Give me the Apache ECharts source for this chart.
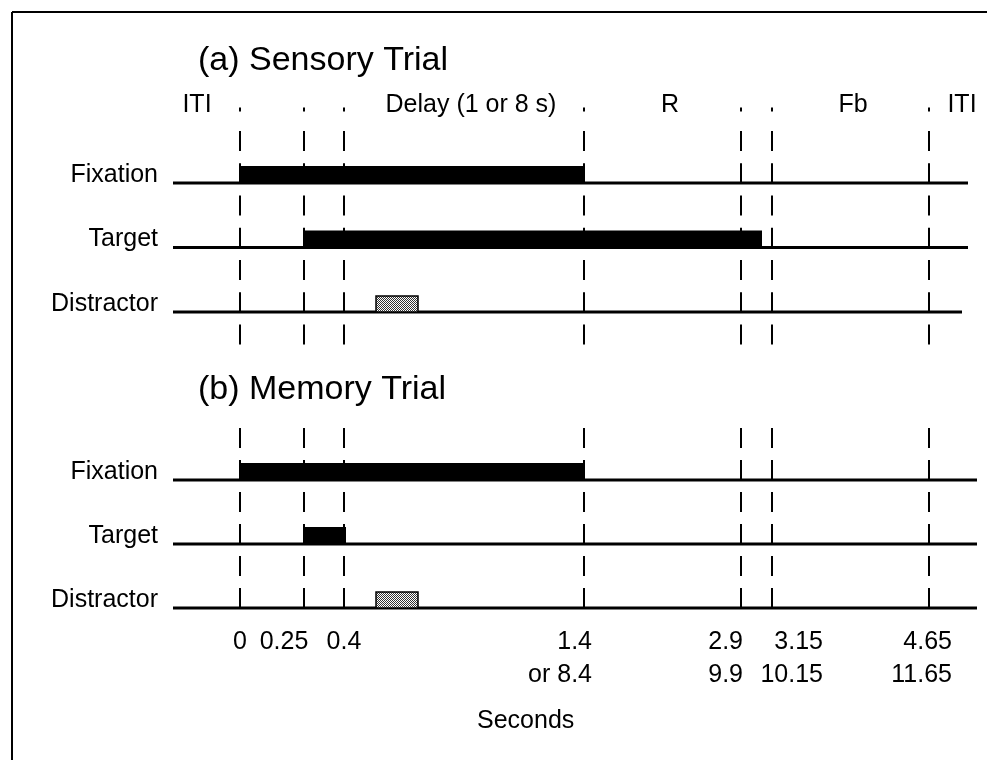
<!DOCTYPE html>
<html><head><meta charset="utf-8">
<script src="https://cdn.jsdelivr.net/npm/echarts@6/dist/echarts.min.js"></script>
<style>html,body{margin:0;padding:0;background:#fff}#c{width:1004px;height:760px}</style>
</head><body><div id="c"></div>
<script>
// ---------- data ----------
const rows = ['Fixation', 'Target', 'Distractor'];
const eventTimes = ['0', '0.25', '0.4', '1.4', '2.9', '3.15', '4.65'];
const eventTimesLong = ['', '', '', 'or 8.4', '9.9', '10.15', '11.65'];
// schematic (non-linear) drawing position of each event on the timeline
const eventPos = [0, 64, 104, 344, 501, 532, 689];
const phases = ['ITI', 'Delay (1 or 8 s)', 'R', 'Fb', 'ITI'];
const phaseCenters = [-43, 231, 430, 613, 722];
// bars: [rowIndex, start, end] on the schematic timeline
const sensoryBars = [[0, 0, 344], [1, 64, 522]];
const sensoryDistractor = [[2, 136, 178]];
const memoryBars = [[0, 0, 344], [1, 64, 106]];
const memoryDistractor = [[2, 136, 178]];
const timelineStart = -67;
const sensoryLineEnd = [728, 728, 722];
const memoryLineEnd = [737, 737, 737];
const panelTitles = ['(a) Sensory Trial', '(b) Memory Trial'];
const xTitle = 'Seconds';

// ---------- style / layout ----------
const FONT = 'Liberation Sans, Arial, Helvetica, sans-serif';
const FS = 25;
const tickAlign = ['center', 'center', 'center', 'right', 'right', 'right', 'right'];
const tickDx = [0, -20, 0, 8, 2, 51, 23];

const chart = echarts.init(document.getElementById('c'), null, {renderer: 'canvas'});

// checker pattern for distractor stimulus
const pc = document.createElement('canvas');
pc.width = 2; pc.height = 2;
const pctx = pc.getContext('2d');
pctx.fillStyle = '#fff'; pctx.fillRect(0, 0, 2, 2);
pctx.fillStyle = '#333'; pctx.fillRect(0, 0, 1, 1); pctx.fillRect(1, 1, 1, 1);
const checker = {image: pc, repeat: 'repeat'};

function baselineSeries(g, ends) {
  return {
    type: 'custom', xAxisIndex: g, yAxisIndex: g, clip: false, z: 3,
    data: rows.map((r, i) => [ends[i], i + 1]),
    renderItem: (params, api) => {
      const a = api.coord([timelineStart, api.value(1)]);
      const b = api.coord([api.value(0), api.value(1)]);
      return {type: 'line', shape: {x1: a[0], y1: a[1], x2: b[0], y2: b[1]},
        style: {stroke: '#000', lineWidth: 3}};
    }
  };
}
function dashSeries(g, top, bottom, dash) {
  return {
    type: 'custom', xAxisIndex: g, yAxisIndex: g, clip: false, z: 2,
    data: eventPos.map(p => [p, 1]),
    renderItem: (params, api) => {
      const a = api.coord([api.value(0), top]);
      const b = api.coord([api.value(0), bottom]);
      return {type: 'line', shape: {x1: a[0], y1: a[1], x2: b[0], y2: b[1]},
        style: {stroke: '#000', lineWidth: 2, lineDash: dash}};
    }
  };
}
function barSeries(g, bars, pattern) {
  return {
    type: 'custom', xAxisIndex: g, yAxisIndex: g, clip: false, z: 4,
    data: bars.map(b => [b[1], b[2], b[0] + 1]),
    renderItem: (params, api) => {
      const a = api.coord([api.value(0), api.value(2)]);
      const b = api.coord([api.value(1), api.value(2)]);
      if (pattern) {
        return {type: 'rect', shape: {x: a[0], y: a[1] - 16, width: b[0] - a[0], height: 16},
          style: {fill: checker, stroke: '#000', lineWidth: 1.5}};
      }
      return {type: 'rect', shape: {x: a[0], y: a[1] - 17, width: b[0] - a[0], height: 18},
        style: {fill: '#000'}};
    }
  };
}
function rowLabelSeries(g) {
  return {
    type: 'custom', xAxisIndex: g, yAxisIndex: g, clip: false, z: 5,
    data: rows.map((r, i) => [timelineStart, i + 1]),
    renderItem: (params, api) => {
      const a = api.coord([api.value(0), api.value(1)]);
      return {type: 'text', x: a[0] - 15, y: a[1] - 8,
        style: {text: rows[params.dataIndex], fontSize: FS, fontFamily: FONT, fill: '#000',
          align: 'right', verticalAlign: 'middle'}};
    }
  };
}

const series = [
  dashSeries(0, 0.194, 3.62, [20, 12.25]),
  baselineSeries(0, sensoryLineEnd),
  barSeries(0, sensoryBars, false),
  barSeries(0, sensoryDistractor, true),
  rowLabelSeries(0),
  // phase labels
  {
    type: 'custom', xAxisIndex: 0, yAxisIndex: 0, clip: false, z: 5,
    data: phaseCenters.map(c => [c, -0.2]),
    renderItem: (params, api) => {
      const a = api.coord([api.value(0), api.value(1)]);
      return {type: 'text', x: a[0], y: a[1],
        style: {text: phases[params.dataIndex], fontSize: FS, fontFamily: FONT, fill: '#000',
          align: 'center', verticalAlign: 'middle'}};
    }
  },
  // boundary dots
  {
    type: 'custom', xAxisIndex: 0, yAxisIndex: 0, clip: false, z: 5,
    data: eventPos.map(p => [p, -0.14]),
    renderItem: (params, api) => {
      const a = api.coord([api.value(0), api.value(1)]);
      return {type: 'rect', shape: {x: a[0] - 1, y: a[1] - 2, width: 2, height: 4},
        style: {fill: '#000'}};
    }
  },
  dashSeries(1, 0.1875, 3.156, [20, 12]),
  baselineSeries(1, memoryLineEnd),
  barSeries(1, memoryBars, false),
  barSeries(1, memoryDistractor, true),
  rowLabelSeries(1),
  // time labels
  {
    type: 'custom', xAxisIndex: 1, yAxisIndex: 1, clip: false, z: 5,
    data: eventPos.map(p => [p, 3.53]),
    renderItem: (params, api) => {
      const i = params.dataIndex;
      const a = api.coord([api.value(0), api.value(1)]);
      const b = api.coord([api.value(0), 4.05]);
      return {type: 'group', children: [
        {type: 'text', x: a[0] + tickDx[i], y: a[1],
          style: {text: eventTimes[i], fontSize: FS, fontFamily: FONT, fill: '#000',
            align: tickAlign[i], verticalAlign: 'middle'}},
        {type: 'text', x: b[0] + tickDx[i], y: b[1],
          style: {text: eventTimesLong[i], fontSize: FS, fontFamily: FONT, fill: '#000',
            align: tickAlign[i], verticalAlign: 'middle'}}
      ]};
    }
  }
];

const axisOff = {show: false, splitLine: {show: false}};
chart.setOption({
  animation: false,
  backgroundColor: '#fff',
  title: [
    {text: panelTitles[0], left: 198, top: 44, padding: 0,
      textStyle: {fontSize: 34, fontWeight: 'normal', fontFamily: FONT, color: '#000', lineHeight: 34}},
    {text: panelTitles[1], left: 198, top: 373, padding: 0,
      textStyle: {fontSize: 34, fontWeight: 'normal', fontFamily: FONT, color: '#000', lineHeight: 34}},
    {text: xTitle, left: 477, top: 709, padding: 0,
      textStyle: {fontSize: FS, fontWeight: 'normal', fontFamily: FONT, color: '#000', lineHeight: 25}}
  ],
  grid: [
    {left: 173, width: 804, top: 86.25, height: 274.1},
    {left: 173, width: 804, top: 416, height: 320}
  ],
  xAxis: [
    Object.assign({type: 'value', gridIndex: 0, min: -67, max: 737}, axisOff),
    Object.assign({type: 'value', gridIndex: 1, min: -67, max: 737}, axisOff)
  ],
  yAxis: [
    Object.assign({type: 'value', gridIndex: 0, min: -0.5, max: 3.75, inverse: true}, axisOff),
    Object.assign({type: 'value', gridIndex: 1, min: 0, max: 5, inverse: true}, axisOff)
  ],
  graphic: [
    {type: 'line', shape: {x1: 12, y1: 12, x2: 987, y2: 12}, style: {stroke: '#000', lineWidth: 2}},
    {type: 'line', shape: {x1: 12, y1: 12, x2: 12, y2: 760}, style: {stroke: '#000', lineWidth: 2}}
  ],
  series: series
});
</script>
</body></html>
